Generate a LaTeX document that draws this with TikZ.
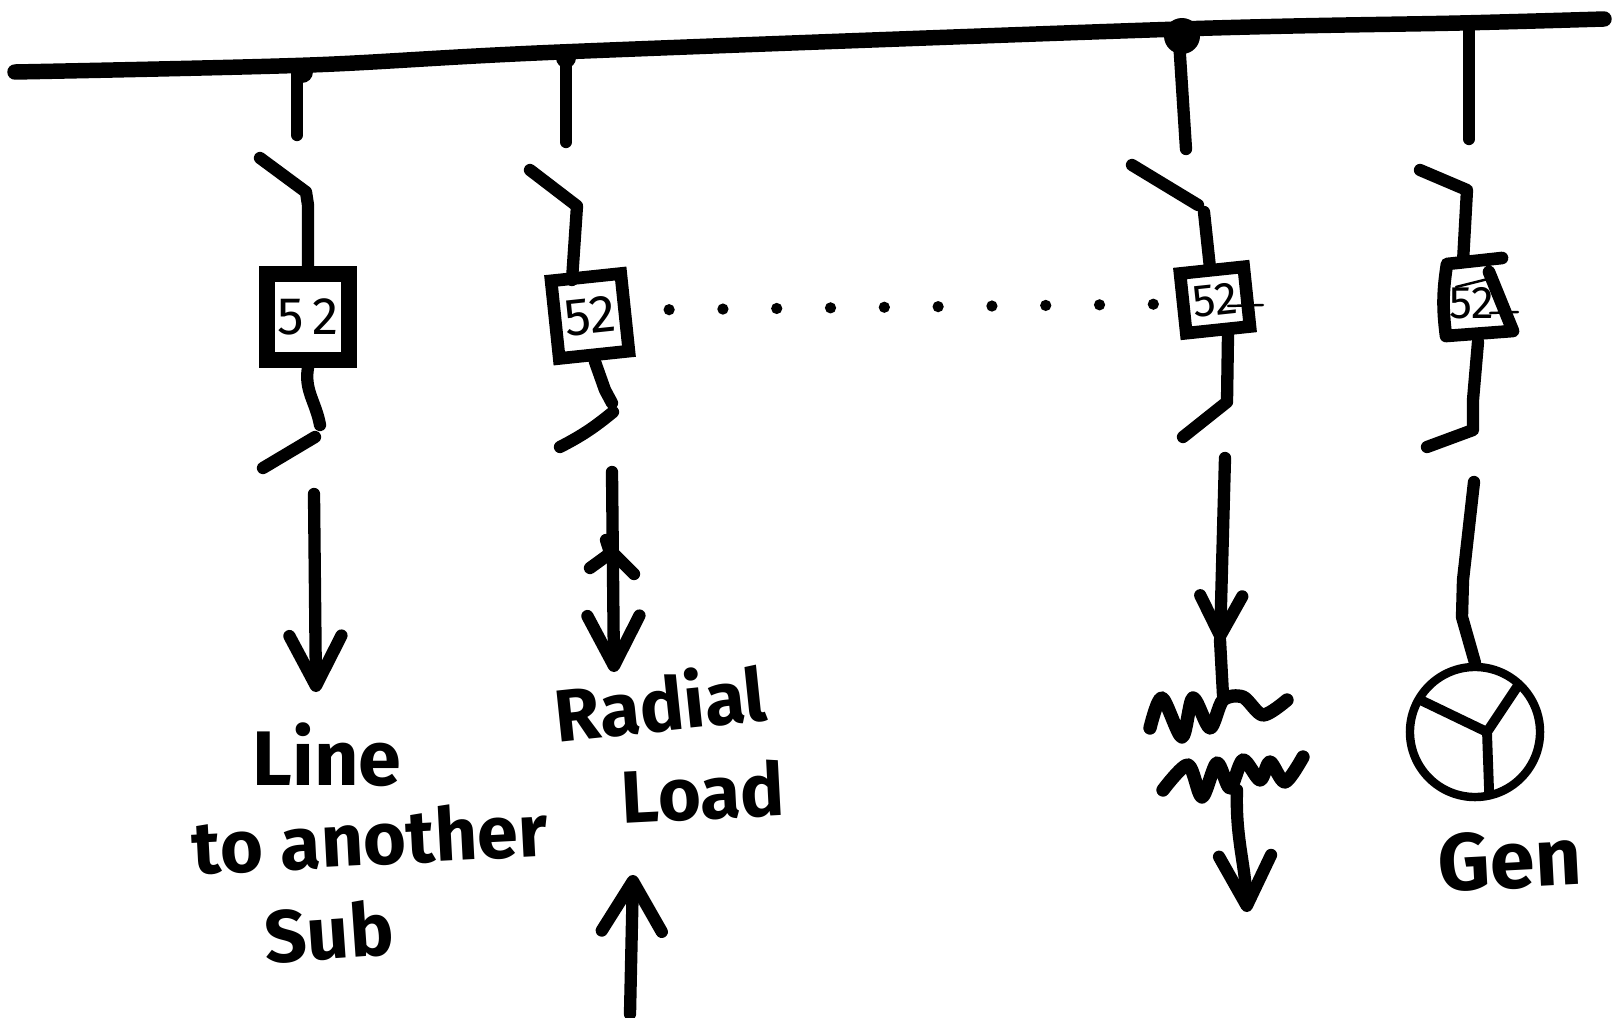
\documentclass[tikz,border=0pt]{standalone}
\usepackage{fontspec}
\setsansfont{Fira Sans}
\usetikzlibrary{arrows.meta}
\tikzset{
  wire/.style={line width=3.5pt,line cap=round,line join=round},
  feed/.style={wire,-{Straight Barb[length=5mm,width=5.2mm,round]}},
  brk/.style={draw,line width=3.6pt,inner sep=0pt,font=\sffamily\fontsize{15}{15}\selectfont},
  hand/.style={font=\sffamily\bfseries\fontsize{21}{21}\selectfont,inner sep=0pt},
  thin52/.style={line width=0.7pt,line cap=round}
}
\begin{document}
\begin{tikzpicture}[x=0.01cm,y=-0.01cm]
\useasboundingbox (0,0) rectangle (1614,1018);
\draw [wire, line width=4.4pt] plot[smooth] coordinates {(15,72) (310,65) (560,52) (1180,29) (1460,23) (1604,19)};
\fill (302,72) circle (11);
\fill (566,58) circle (10);
\fill (1182,36) circle (18);

\node [brk, line width=4.4pt, minimum width=.82cm, minimum height=.86cm] (brkA) at (308,317) {5\,2};
\node [brk, minimum width=.70cm, minimum height=.78cm, rotate=6] (brkB) at (590,316) {52};
\node [brk, minimum width=.64cm, minimum height=.60cm, rotate=6, font=\sffamily\fontsize{13}{13}\selectfont] (brkC) at (1215,300) {52};
\node [inner sep=0pt, font=\sffamily\fontsize{13}{13}\selectfont] (brkD) at (1472,303) {52};
\draw [wire, line width=3.6pt] (1502,258) -- (1447,264) to[bend right=8] (1446,336) -- (1513,331) -- (1489,272);
\draw [thin52] (1228,306) -- (1263,305);
\draw [thin52] (1490,313) -- (1518,312);
\draw [thin52] (1456,287) -- (1488,279);
\draw [wire, dash pattern=on 0pt off 15.3pt, line width=3.2pt] (brkB.east) ++(38,-2) -- ([xshift=-.06cm]brkC.west);

\coordinate (tapA) at (297,68);
\coordinate (tapB) at (566,55);
\coordinate (tapC) at (1179,40);
\coordinate (tapD) at (1469,28);
\draw [wire] (tapA) -- (297,135);
\draw [wire] (tapB) -- (566,142);
\draw [wire] (tapC) -- (1186,149);
\draw [wire] (tapD) -- (1469,139);

\draw [wire] (260,158) -- (306,192) -- (308,205) -- (brkA.north);
\draw [wire] (530,170) -- (577,206) -- (572,280);
\draw [wire] (1132,165) -- (1198,205);
\draw [wire] (1204,212) -- (1210,268);
\draw [wire] (1420,170) -- (1467,190) -- (1463,262);

\draw [wire] (brkA.south) to[out=260,in=100] (320,425);
\draw [wire] (315,437) -- (263,468);
\draw [wire] (brkB.south) -- (605,390) -- (612,403);
\draw [wire] (613,412) to[bend left=6] (560,447);
\draw [wire] (1228,335) -- (1227,402) -- (1183,437);
\draw [wire] (1478,342) -- (1473,400) -- (1473,430) -- (1427,447);

\draw [feed] (314,494) -- (316,692);
\draw [feed] (612,472) -- (614,672);
\draw [wire] (590,568) -- (612,552) -- (634,574);
\draw [wire] (606,540) -- (614,565);
\draw [feed, -{Straight Barb[length=4mm,width=4.2mm,round]}] (1225,458) -- (1220,642);
\draw [wire] (1220,640) -- (1223,695);
\draw [wire, line width=3.8pt] plot[smooth] coordinates {(1150,728) (1162,698) (1182,737) (1193,698) (1210,728) (1223,700) (1243,697) (1263,715) (1287,700)};
\draw [wire, line width=3.8pt] plot[smooth] coordinates {(1163,790) (1188,765) (1202,797) (1217,763) (1230,788) (1243,760) (1260,780) (1270,762) (1285,782) (1303,757)};
\draw [feed] (1237,790) to[out=-92,in=92] (1247,912);
\draw [feed, -{Straight Barb[length=5mm,width=6mm,round]}] (630,1014) -- (633,875);

\node [circle, draw, line width=2.4pt, minimum size=1.30cm, inner sep=0pt] (genD) at (1475,732) {};
\coordinate (genHub) at (1487,732);
\draw [wire] (1474,482) -- (1463,580) -- (1462,617) -- (genD.north);
\draw [wire, line width=2.8pt, shorten >=1.5pt] (genHub) -- (genD.150);
\draw [wire, line width=2.8pt, shorten >=1.5pt] (genHub) -- (genD.48);
\draw [wire, line width=2.8pt, shorten >=1.5pt] (genHub) -- (genD.282);

\node [hand, font=\sffamily\bfseries\fontsize{22}{22}\selectfont] (lblLine) at (327,755) {Line};
\node [hand, rotate=3] (lblTo) at (370,838) {to another};
\node [hand, rotate=4] (lblSub) at (329,932) {Sub};
\node [hand, rotate=6] (lblRadial) at (660,702) {Radial};
\node [hand, rotate=3] (lblLoad) at (703,792) {Load};
\node [hand, font=\sffamily\bfseries\fontsize{23}{23}\selectfont, rotate=3] (lblGen) at (1510,860) {Gen};
\end{tikzpicture}
\end{document}
